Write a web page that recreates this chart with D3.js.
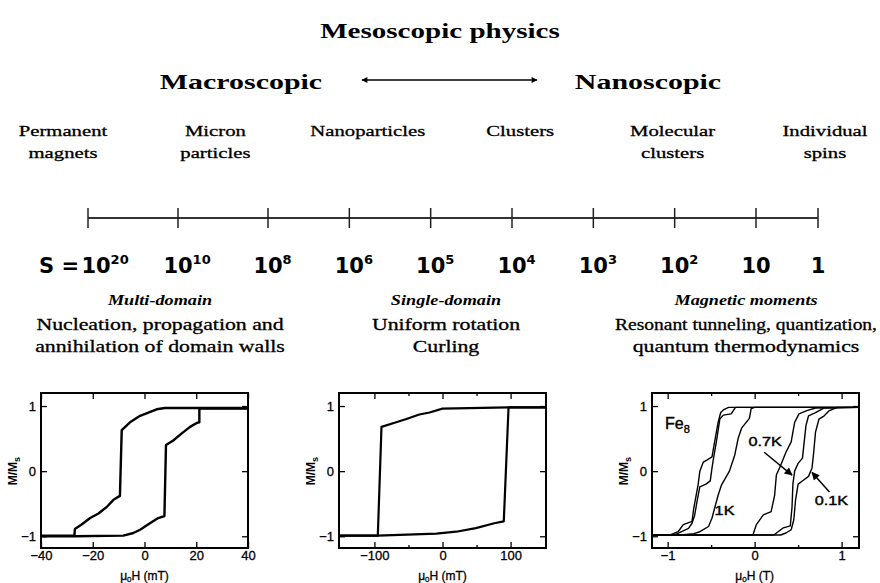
<!DOCTYPE html>
<html>
<head>
<meta charset="utf-8">
<script src="https://cdn.jsdelivr.net/npm/d3@7"></script>
<style>
body { margin: 0; background: #fff; }
svg { display: block; }
</style>
</head>
<body>
<svg width="880" height="583"></svg>
<script>
// ---- data ----
var title = "Mesoscopic physics";
var scaleEnds = ["Macroscopic", "Nanoscopic"];
var categories = [["Permanent", "magnets"], ["Micron", "particles"], ["Nanoparticles"],
                  ["Clusters"], ["Molecular", "clusters"], ["Individual", "spins"]];
var spinExponents = [20, 10, 8, 6, 5, 4, 3, 2, 1, 0];
var regimes = ["Multi-domain", "Single-domain", "Magnetic moments"];
var mechanisms = [["Nucleation, propagation and", "annihilation of domain walls"],
                  ["Uniform rotation", "Curling"],
                  ["Resonant tunneling, quantization,", "quantum thermodynamics"]];

var mTicks = [1, 0, -1];
var multiTicks = [-40, -20, 0, 20, 40];
var singleTicks = [-100, 0, 100];
var fe8Ticks = [-1, 0, 1];

// multi-domain loop, mT vs M/Ms
var multiDown = [[40,0.97],[7.9,0.97],[4.7,0.95],[-1.7,0.85],[-5.6,0.75],[-8.8,0.63],[-9.5,-0.38],
  [-12,-0.44],[-14.6,-0.55],[-17.8,-0.65],[-21,-0.72],[-24.3,-0.82],[-26.9,-0.89],[-27.1,-0.99],[-40,-0.99]];
var multiUp = [[-40,-1.0],[-27,-1.0],[-8.2,-0.99],[-4.3,-0.95],[-1.7,-0.9],[2.1,-0.8],[5.3,-0.72],[7.7,-0.69],
  [8.3,0.4],[11.1,0.47],[14.4,0.58],[17.6,0.68],[20.2,0.74],[21.2,0.75],[21.2,0.96],[40,0.96]];

// single-domain loop
var singleUp = [[-152,-0.99],[-95,-0.99],[-9,-0.96],[20,-0.93],[49,-0.875],[76,-0.8],[90,-0.77],[97,0.98],[152,0.98]];
var singleDown = [[152,0.98],[97,0.98],[0,0.96],[-19,0.9],[-34,0.87],[-53,0.8],[-68,0.75],[-89.6,0.68],[-95,-0.99],[-152,-0.99]];

// Fe8 loops, tesla vs M/Ms
var fe8Down1K = [[1.2,0.98],[0.0,0.98],[-0.04,0.96],[-0.06,0.81],[-0.15,0.66],[-0.19,0.5],[-0.23,0.24],[-0.29,0.0],
  [-0.38,-0.21],[-0.42,-0.37],[-0.46,-0.57],[-0.49,-0.72],[-0.53,-0.85],[-0.63,-0.93],[-0.70,-0.96],[-0.85,-0.98],[-1.18,-0.98]];
var fe8Up1K = [[-1.18,-0.98],[-0.02,-0.98],[0.02,-0.82],[0.1,-0.67],[0.19,-0.62],[0.23,-0.37],[0.25,-0.06],[0.3,0.09],
  [0.36,0.29],[0.42,0.45],[0.46,0.75],[0.51,0.88],[0.6,0.93],[0.7,0.97],[1.2,0.98]];
var fe8Down07K = [[1.2,0.98],[-0.22,0.98],[-0.27,0.88],[-0.36,0.86],[-0.40,0.8],[-0.44,0.45],[-0.47,0.22],[-0.49,0.05],
  [-0.51,-0.15],[-0.56,-0.2],[-0.63,-0.24],[-0.66,-0.45],[-0.69,-0.68],[-0.72,-0.8],[-0.76,-0.88],[-0.84,-0.93],[-0.92,-0.98],[-1.18,-0.98]];
var fe8Up07K = [[-1.18,-0.98],[0.22,-0.98],[0.27,-0.93],[0.33,-0.87],[0.41,-0.84],[0.43,-0.55],[0.44,-0.2],[0.46,0.0],
  [0.5,0.12],[0.55,0.2],[0.57,0.45],[0.59,0.7],[0.62,0.85],[0.7,0.9],[0.8,0.97],[1.2,0.98]];
var fe8Down01K = [[1.2,0.98],[-0.30,0.98],[-0.36,0.94],[-0.39,0.9],[-0.42,0.75],[-0.46,0.45],[-0.49,0.22],[-0.55,0.17],
  [-0.59,0.14],[-0.63,0.0],[-0.65,-0.21],[-0.70,-0.57],[-0.72,-0.77],[-0.82,-0.82],[-0.88,-0.93],[-0.97,-0.98],[-1.18,-0.98]];
var fe8Up01K = [[-1.18,-0.98],[0.3,-0.98],[0.36,-0.95],[0.42,-0.9],[0.45,-0.75],[0.47,-0.45],[0.5,-0.2],[0.56,-0.14],
  [0.62,-0.08],[0.66,0.05],[0.68,0.3],[0.7,0.6],[0.74,0.8],[0.8,0.85],[0.86,0.93],[0.95,0.98],[1.2,0.98]];

// ---- drawing ----
var svg = d3.select("svg");
var serif = "'Liberation Serif', 'Times New Roman', serif";
var sans = "'Liberation Sans', Arial, sans-serif";

// scanned figure is wider than the fonts, widen text a bit (capped)
var stretch = function(sel, k, maxW) {
  sel.each(function() {
    var w = this.getComputedTextLength() * k;
    if (maxW && w > maxW) w = maxW;
    d3.select(this).attr("textLength", w).attr("lengthAdjust", "spacingAndGlyphs");
  });
};

var defs = svg.append("defs");
defs.append("marker")
  .attr("id", "head")
  .attr("viewBox", "0 0 10 10")
  .attr("refX", 9).attr("refY", 5)
  .attr("markerWidth", 8).attr("markerHeight", 6)
  .attr("markerUnits", "userSpaceOnUse")
  .attr("orient", "auto-start-reverse")
  .append("path").attr("d", "M0,0 L10,5 L0,10 z").attr("fill", "#000");
defs.append("marker")
  .attr("id", "bighead")
  .attr("viewBox", "0 0 10 10")
  .attr("refX", 9).attr("refY", 5)
  .attr("markerWidth", 12).attr("markerHeight", 8)
  .attr("markerUnits", "userSpaceOnUse")
  .attr("orient", "auto")
  .append("path").attr("d", "M0,0 L10,5 L0,10 z").attr("fill", "#000");

// title
svg.append("text")
  .attr("x", 440).attr("y", 38)
  .attr("text-anchor", "middle")
  .style("font-family", serif).style("font-weight", "bold").style("font-size", "22px")
  .text(title)
  .call(stretch, 1.32);

svg.append("g").selectAll("text")
  .data(scaleEnds)
  .enter().append("text")
  .attr("x", function(d, i) { return i == 0 ? 241 : 648; })
  .attr("y", 89)
  .attr("text-anchor", "middle")
  .style("font-family", serif).style("font-weight", "bold").style("font-size", "22px")
  .text(function(d) { return d; })
  .call(stretch, 1.36);

svg.append("line")
  .attr("x1", 362).attr("x2", 537).attr("y1", 80).attr("y2", 80)
  .attr("stroke", "#000").attr("stroke-width", 1.5)
  .attr("marker-start", "url(#head)").attr("marker-end", "url(#head)");

// categories above the ruler
var catScale = d3.scalePoint().domain(d3.range(categories.length)).range([63, 825]);
var cat = svg.append("g").selectAll("g")
  .data(categories)
  .enter().append("g");
cat.selectAll("text")
  .data(function(d, i) { return d.map(function(t) { return {t: t, i: i}; }); })
  .enter().append("text")
  .attr("x", function(d) { return catScale(d.i); })
  .attr("y", function(d, j) { return 136 + j * 22; })
  .attr("text-anchor", "middle")
  .style("font-family", serif).style("font-size", "15px")
  .attr("stroke", "#000").attr("stroke-width", 0.3)
  .text(function(d) { return d.t; })
  .call(stretch, 1.38);

// ruler of spin sizes (the original scale is not evenly spaced)
var ruler = d3.scaleLinear().domain([0, 2, 8, 9]).range([88, 268, 756, 818]);
var rulerY = 218;
svg.append("line")
  .attr("x1", ruler(0)).attr("x2", ruler(spinExponents.length - 1))
  .attr("y1", rulerY).attr("y2", rulerY)
  .attr("stroke", "#333").attr("stroke-width", 1.8);
svg.append("g").selectAll("line")
  .data(spinExponents)
  .enter().append("line")
  .attr("x1", function(d, i) { return ruler(i); }).attr("x2", function(d, i) { return ruler(i); })
  .attr("y1", rulerY - 10).attr("y2", rulerY + 10)
  .attr("stroke", "#222").attr("stroke-width", 1.5);

var sizeLabels = svg.append("g").selectAll("text")
  .data(spinExponents)
  .enter().append("text")
  .attr("y", 273)
  .style("font-family", "'DejaVu Sans', sans-serif").style("font-weight", "bold").style("font-size", "21px");
sizeLabels.append("tspan").attr("class", "base")
  .text(function(d) { return d == 0 ? "1" : "10"; });
sizeLabels.filter(function(d) { return d > 1; })
  .append("tspan")
  .attr("dy", -9).style("font-size", "13px")
  .text(function(d) { return d; });
sizeLabels.each(function(d, i) {
  var w = d3.select(this).select(".base").node().getComputedTextLength();
  d3.select(this).attr("x", ruler(i) - w / 2 + (i == 0 ? 8 : 0));
});
svg.append("text")
  .attr("x", ruler(0) - 9).attr("y", 273)
  .attr("text-anchor", "end")
  .style("font-family", "'DejaVu Sans', sans-serif").style("font-weight", "bold").style("font-size", "21px")
  .text("S =");

// headings over the three panels
var colX = [160, 446, 746];
svg.append("g").selectAll("text")
  .data(regimes)
  .enter().append("text")
  .attr("x", function(d, i) { return colX[i]; })
  .attr("y", 305)
  .attr("text-anchor", "middle")
  .style("font-family", serif).style("font-style", "italic").style("font-weight", "bold").style("font-size", "14px")
  .text(function(d) { return d; })
  .call(stretch, 1.3);

var mech = svg.append("g").selectAll("g")
  .data(mechanisms)
  .enter().append("g");
mech.selectAll("text")
  .data(function(d, i) { return d.map(function(t) { return {t: t, i: i}; }); })
  .enter().append("text")
  .attr("x", function(d) { return colX[d.i]; })
  .attr("y", function(d, j) { return 330 + j * 22; })
  .attr("text-anchor", "middle")
  .style("font-family", serif).style("font-size", "16px")
  .attr("stroke", "#000").attr("stroke-width", 0.3)
  .text(function(d) { return d.t; })
  .call(stretch, 1.36, 262);

// ---- hysteresis panels ----
var panelW = 207;
var panelTop = 393, panelBottom = 548;
var y = d3.scaleLinear().domain([-1.18, 1.2]).range([panelBottom, panelTop]);

var drawPanel = function(p) {
  var g = svg.append("g");
  var x = d3.scaleLinear().domain(p.domain).range([p.left, p.left + panelW]);

  var axB = d3.axisBottom(x).tickValues(p.ticks).tickSize(-6).tickPadding(3).tickFormat(d3.format("d"));
  var axT = d3.axisTop(x).tickValues(p.ticks).tickSize(-6).tickFormat("");
  var axL = d3.axisLeft(y).tickValues(mTicks).tickSize(-6).tickPadding(5).tickFormat(d3.format("d"));
  var axR = d3.axisRight(y).tickValues(mTicks).tickSize(-6).tickFormat("");

  g.append("g").attr("transform", "translate(0," + panelBottom + ")").call(axB);
  g.append("g").attr("transform", "translate(0," + panelTop + ")").call(axT);
  g.append("g").attr("transform", "translate(" + p.left + ",0)").call(axL);
  g.append("g").attr("transform", "translate(" + (p.left + panelW) + ",0)").call(axR);
  if (p.minor) {
    g.append("g").attr("transform", "translate(0," + panelBottom + ")")
      .call(d3.axisBottom(x).tickValues(p.minor).tickSize(-3).tickFormat(""));
    g.append("g").attr("transform", "translate(0," + panelTop + ")")
      .call(d3.axisTop(x).tickValues(p.minor).tickSize(-3).tickFormat(""));
  }
  g.selectAll(".domain").remove();
  g.selectAll(".tick line").attr("stroke", "#000").attr("stroke-width", 1.3);
  g.selectAll(".tick text")
    .style("font-family", sans).style("font-size", "13px").attr("fill", "#000")
    .attr("stroke", "#000").attr("stroke-width", 0.3);

  g.append("rect")
    .attr("x", p.left).attr("y", panelTop)
    .attr("width", panelW).attr("height", panelBottom - panelTop)
    .attr("fill", "none").attr("stroke", "#000").attr("stroke-width", 2);

  var line = d3.line().x(function(d) { return x(d[0]); }).y(function(d) { return y(d[1]); });
  g.selectAll("path.loop")
    .data(p.curves)
    .enter().append("path")
    .attr("class", "loop")
    .attr("d", line)
    .attr("fill", "none").attr("stroke", "#000")
    .attr("stroke-width", p.lw).attr("stroke-linejoin", "round");

  // axis titles
  var xt = g.append("text")
    .attr("x", x(0)).attr("y", 580)
    .attr("text-anchor", "middle")
    .style("font-family", sans).style("font-size", "12px")
    .attr("stroke", "#000").attr("stroke-width", 0.3);
  xt.append("tspan").text("\u03bc");
  xt.append("tspan").attr("dy", 2).style("font-size", "8px").text("0");
  xt.append("tspan").attr("dy", -2).text("H (" + p.unit + ")");

  var yt = g.append("text")
    .attr("transform", "translate(" + (p.left - 24) + "," + y(0) + ") rotate(-90)")
    .attr("text-anchor", "middle")
    .style("font-family", sans).style("font-weight", "bold").style("font-size", "12px");
  yt.append("tspan").text("M/M");
  yt.append("tspan").attr("dy", 3).style("font-size", "9px").text("s");

  return {g: g, x: x};
};

drawPanel({left: 41, domain: [-40, 40], ticks: multiTicks, unit: "mT",
           curves: [multiDown, multiUp], lw: 2.4});
drawPanel({left: 339, domain: [-152, 152], ticks: singleTicks, minor: [-50, 50], unit: "mT",
           curves: [singleUp, singleDown], lw: 2.2});
var fe8 = drawPanel({left: 652, domain: [-1.18, 1.2], ticks: fe8Ticks, minor: [-0.5, 0.5], unit: "T",
           curves: [fe8Down1K, fe8Up1K, fe8Down07K, fe8Up07K, fe8Down01K, fe8Up01K], lw: 1.4});

// annotations inside the Fe8 panel
var fx = fe8.x, fg = fe8.g;
var fe = fg.append("text")
  .attr("x", fx(-1.03)).attr("y", y(0.64))
  .style("font-family", sans).style("font-size", "16px")
  .attr("stroke", "#000").attr("stroke-width", 0.4);
fe.append("tspan").text("Fe");
fe.append("tspan").attr("dy", 4).style("font-size", "11px").text("8");

var notes = fg.selectAll("text.note")
  .data([{t: "1K", at: [-0.46, -0.68]}, {t: "0.7K", at: [-0.07, 0.38]}, {t: "0.1K", at: [0.69, -0.52]}])
  .enter().append("text")
  .attr("class", "note")
  .attr("x", function(d) { return fx(d.at[0]); })
  .attr("y", function(d) { return y(d.at[1]); })
  .style("font-family", sans).style("font-size", "13px")
  .attr("stroke", "#000").attr("stroke-width", 0.4)
  .text(function(d) { return d.t; })
  .call(stretch, 1.25);

fg.selectAll("line.arrow")
  .data([[[0.11, 0.29], [0.43, -0.06]], [[0.86, -0.32], [0.66, -0.02]]])
  .enter().append("line")
  .attr("class", "arrow")
  .attr("x1", function(d) { return fx(d[0][0]); }).attr("y1", function(d) { return y(d[0][1]); })
  .attr("x2", function(d) { return fx(d[1][0]); }).attr("y2", function(d) { return y(d[1][1]); })
  .attr("stroke", "#000").attr("stroke-width", 1.5)
  .attr("marker-end", "url(#bighead)");
</script>
</body>
</html>
